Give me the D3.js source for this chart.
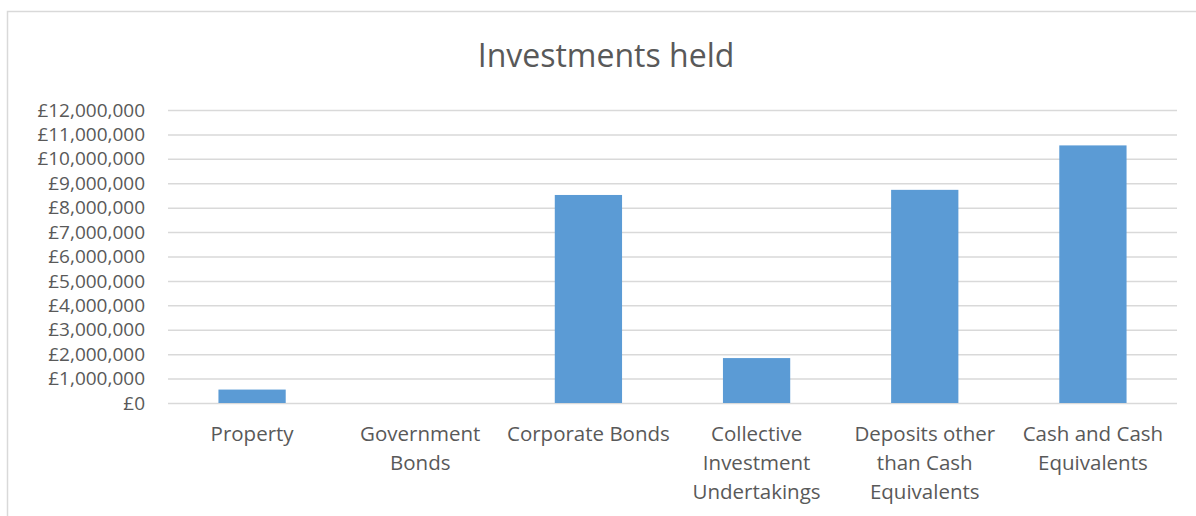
<!DOCTYPE html>
<html>
<head>
<meta charset="utf-8">
<script src="https://cdn.jsdelivr.net/npm/d3@7"></script>
<style>
  body { margin: 0; background: #fff; }
  svg { display: block; font-family: "Open Sans", sans-serif; }
</style>
</head>
<body>
<script>
// chart size, margins, data
const width = 1196;
const height = 516;
const margin = {top: 110, right: 19, bottom: 113, left: 168};

const categories = [
  "Property",
  "Government Bonds",
  "Corporate Bonds",
  "Collective Investment Undertakings",
  "Deposits other than Cash Equivalents",
  "Cash and Cash Equivalents"
];
// how each category label wraps under the axis
const categoryLines = [
  ["Property"],
  ["Government", "Bonds"],
  ["Corporate Bonds"],
  ["Collective", "Investment", "Undertakings"],
  ["Deposits other", "than Cash", "Equivalents"],
  ["Cash and Cash", "Equivalents"]
];
const values = [550000, 0, 8520000, 1840000, 8730000, 10550000];
const yTicks = [0, 1000000, 2000000, 3000000, 4000000, 5000000, 6000000,
  7000000, 8000000, 9000000, 10000000, 11000000, 12000000];

const textColor = "#595959";
const gridColor = "#d9d9d9";
const barColor = "#5b9bd5";

const x = d3.scaleBand()
  .domain(categories)
  .range([margin.left, width - margin.right])
  .paddingInner(0.6)
  .paddingOuter(0.3);

const y = d3.scaleLinear()
  .domain([0, 12000000])
  .range([height - margin.bottom, margin.top]);

const svg = d3.select("body").append("svg")
  .attr("width", width)
  .attr("height", height);

// chart area border
svg.append("rect")
  .attr("x", 7.5).attr("y", 11.5)
  .attr("width", width + 10).attr("height", height + 10)
  .attr("fill", "none")
  .attr("stroke", gridColor)
  .attr("stroke-width", 1.5);

// title
svg.append("text")
  .attr("x", 606)
  .attr("y", 67)
  .attr("text-anchor", "middle")
  .attr("fill", textColor)
  .attr("font-size", 32)
  .text("Investments held");

// y axis with gridlines
const fmt = d => "£" + d3.format(",")(d);
svg.append("g")
  .attr("transform", `translate(${margin.left},0)`)
  .call(d3.axisLeft(y).tickValues(yTicks).tickFormat(fmt)
    .tickSize(-(width - margin.left - margin.right)).tickPadding(23))
  .call(g => g.select(".domain").remove())
  .call(g => g.selectAll(".tick line")
    .attr("stroke", gridColor).attr("stroke-width", 1.5))
  .call(g => g.selectAll(".tick text")
    .attr("fill", textColor)
    .attr("font-size", 19)
    .attr("font-family", "Open Sans, sans-serif"));

// bars
svg.append("g")
  .selectAll("rect")
  .data(values)
  .join("rect")
  .attr("x", (d, i) => x(categories[i]))
  .attr("y", d => y(d))
  .attr("width", x.bandwidth())
  .attr("height", d => y(0) - y(d))
  .attr("fill", barColor);

// category labels (x axis)
const labels = svg.append("g")
  .selectAll("text")
  .data(categories)
  .join("text")
  .attr("x", d => x(d) + x.bandwidth() / 2)
  .attr("y", 441)
  .attr("text-anchor", "middle")
  .attr("fill", textColor)
  .attr("font-size", 20.5);

labels.selectAll("tspan")
  .data((d, i) => categoryLines[i])
  .join("tspan")
  .attr("x", function () { return this.parentNode.getAttribute("x"); })
  .attr("dy", (d, i) => i === 0 ? 0 : 29)
  .text(d => d);
</script>
</body>
</html>
